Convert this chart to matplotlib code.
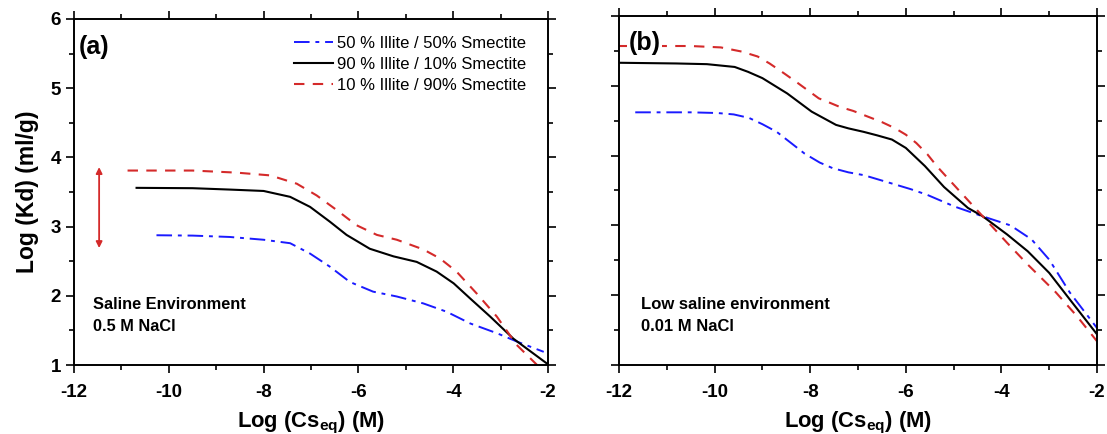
import matplotlib
matplotlib.use('Agg')
from matplotlib import pyplot as plt
from matplotlib.ticker import MultipleLocator

plt.rcParams['font.family'] = ['Liberation Sans', 'DejaVu Sans']
plt.rcParams['mathtext.fontset'] = 'custom'
plt.rcParams['mathtext.rm'] = 'Liberation Sans'
plt.rcParams['mathtext.bf'] = 'Liberation Sans:bold'
plt.rcParams['axes.unicode_minus'] = False

labels = ['50 % Illite / 50% Smectite', '90 % Illite / 10% Smectite', '10 % Illite / 90% Smectite']

# (a) saline environment
a_x_blu = [-10.26, -9.5, -8.71, -8.0, -7.44, -7.02, -6.60, -6.18, -5.69, -5.19, -4.63, -4.14, -3.64, -3.08, -2.66, -2.09]
a_y_blu = [2.875, 2.87, 2.85, 2.81, 2.76, 2.61, 2.42, 2.20, 2.06, 1.99, 1.89, 1.77, 1.60, 1.46, 1.34, 1.19]
a_x_blk = [-10.68, -9.5, -8.71, -8.0, -7.44, -7.02, -6.60, -6.25, -5.76, -5.26, -4.77, -4.35, -3.99, -3.64, -3.22, -2.73, -2.02]
a_y_blk = [3.56, 3.555, 3.535, 3.515, 3.43, 3.285, 3.07, 2.88, 2.68, 2.57, 2.49, 2.35, 2.18, 1.96, 1.70, 1.38, 1.02]
a_x_red = [-10.87, -9.5, -8.57, -7.86, -7.30, -6.88, -6.46, -6.04, -5.61, -5.19, -4.63, -4.28, -3.93, -3.50, -3.08, -2.66, -2.23]
a_y_red = [3.81, 3.81, 3.78, 3.74, 3.62, 3.45, 3.24, 3.02, 2.88, 2.81, 2.67, 2.54, 2.35, 2.03, 1.70, 1.29, 1.0]

# (b) low saline environment
b_x_blu = [-11.66, -10.5, -9.94, -9.6, -9.28, -9.0, -8.70, -8.4, -8.12, -7.8, -7.53, -7.2, -6.88, -6.29, -5.9, -5.56, -4.98, -4.39, -3.81, -3.37, -3.0, -2.57, -2.0]
b_y_blu = [4.62, 4.62, 4.61, 4.59, 4.54, 4.45, 4.34, 4.18, 4.03, 3.9, 3.82, 3.76, 3.72, 3.60, 3.52, 3.44, 3.27, 3.13, 3.0, 2.80, 2.51, 2.04, 1.53]
b_x_blk = [-12, -10.8, -10.16, -9.58, -9.3, -9.0, -8.74, -8.48, -7.97, -7.46, -7.2, -6.88, -6.6, -6.29, -6.0, -5.6, -5.2, -4.7, -4.39, -3.88, -3.45, -3.0, -2.57, -2.0]
b_y_blk = [5.33, 5.32, 5.31, 5.27, 5.2, 5.11, 5.0, 4.89, 4.63, 4.44, 4.39, 4.34, 4.29, 4.23, 4.11, 3.85, 3.55, 3.25, 3.13, 2.87, 2.63, 2.32, 1.94, 1.44]
b_x_red = [-12, -10.5, -9.87, -9.43, -9.1, -8.85, -8.55, -8.26, -7.82, -7.6, -7.39, -7.1, -6.80, -6.5, -6.22, -6.0, -5.78, -5.55, -5.34, -5.1, -4.9, -4.39, -3.88, -3.45, -2.86, -2.42, -2.0]
b_y_red = [5.57, 5.57, 5.55, 5.49, 5.42, 5.32, 5.18, 5.04, 4.82, 4.76, 4.70, 4.64, 4.56, 4.48, 4.39, 4.3, 4.18, 4.02, 3.84, 3.66, 3.51, 3.13, 2.75, 2.44, 2.04, 1.70, 1.34]

# arrow range in (a)
arrow_x = -11.47
arrow_y = [2.65, 3.9]

blue = '#1a1aff'
red = '#d42a2a'
dashdot = (0, (8, 3, 2, 3))
dashed = (0, (5, 4))

fig = plt.figure(figsize=(11.07, 4.34), dpi=100)
ax1 = fig.add_axes([74/1107, 1 - 365/434, 474/1107, 346/434])
ax2 = fig.add_axes([619/1107, 1 - 365/434, 478/1107, 349/434])

def style(ax, ylab):
    ax.set_xlim(-12, -2)
    ax.set_ylim(1, 6)
    ax.xaxis.set_major_locator(MultipleLocator(2))
    ax.xaxis.set_minor_locator(MultipleLocator(1))
    ax.yaxis.set_major_locator(MultipleLocator(1))
    ax.yaxis.set_minor_locator(MultipleLocator(0.5))
    ax.tick_params(which='both', direction='out', top=True, right=True, width=1.2)
    ax.tick_params(which='major', length=6, labelsize=13.5)
    ax.tick_params(axis='x', which='major', pad=8)
    ax.tick_params(which='minor', length=3.5)
    for s in ax.spines.values():
        s.set_linewidth(1.4)
    for t in ax.get_xticklabels() + ax.get_yticklabels():
        t.set_fontweight('bold')
    if not ylab:
        ax.set_yticklabels([])
    ax.set_xlabel(r'Log (Cs$_\mathbf{eq}$) (M)', fontsize=15.8, fontweight='bold', labelpad=6)

ax1.plot(a_x_blu, a_y_blu, color=blue, ls=dashdot, lw=1.4, label=labels[0])
ax1.plot(a_x_blk, a_y_blk, color='black', lw=1.5, label=labels[1])
ax1.plot(a_x_red, a_y_red, color=red, ls=dashed, lw=1.5, label=labels[2])
ax1.annotate('', xy=(arrow_x, arrow_y[1]), xytext=(arrow_x, arrow_y[0]),
             arrowprops=dict(arrowstyle='<|-|>', color=red, lw=1.3, mutation_scale=9))
style(ax1, True)
ax1.set_ylabel('Log (Kd) (ml/g)', fontsize=16.5, fontweight='bold', labelpad=8)
ax1.text(-11.9, 5.6, '(a)', fontsize=18, fontweight='bold', va='center')
ax1.text(-11.6, 1.87, 'Saline Environment', fontsize=11.8, fontweight='bold', va='center')
ax1.text(-11.6, 1.56, '0.5 M NaCl', fontsize=11.8, fontweight='bold', va='center')
ax1.legend(loc='upper left', bbox_to_anchor=(0.464, 0.95), frameon=False, fontsize=12,
           handlelength=2.35, handletextpad=0.25, labelspacing=0.35,
           borderpad=0, borderaxespad=0)

ax2.plot(b_x_blu, b_y_blu, color=blue, ls=dashdot, lw=1.4)
ax2.plot(b_x_blk, b_y_blk, color='black', lw=1.5)
ax2.plot(b_x_red, b_y_red, color=red, ls=dashed, lw=1.5)
style(ax2, False)
ax2.text(-11.8, 5.62, '(b)', fontsize=18, fontweight='bold', va='center', zorder=5,
         bbox=dict(facecolor='white', edgecolor='none', pad=1))
ax2.text(-11.53, 1.86, 'Low saline environment', fontsize=12, fontweight='bold', va='center')
ax2.text(-11.53, 1.55, '0.01 M NaCl', fontsize=12, fontweight='bold', va='center')

fig.savefig('out.png', dpi=100)
